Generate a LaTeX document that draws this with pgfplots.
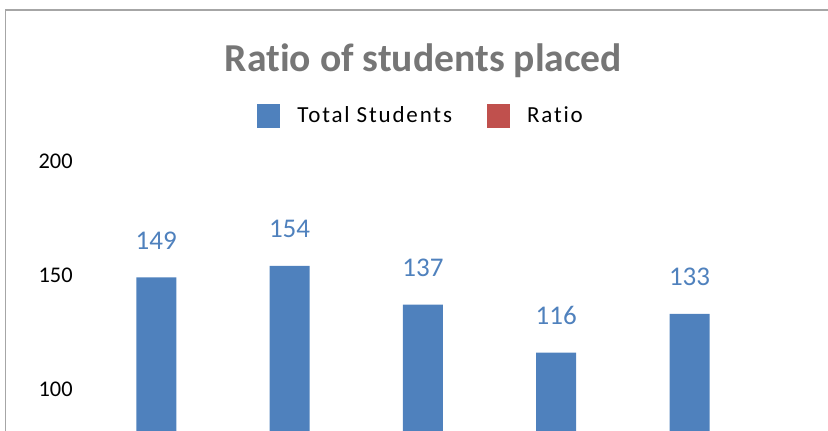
\documentclass[border=0pt]{standalone}
\usepackage{pgfplots}
\pgfplotsset{compat=1.18}
\usepackage{fontspec}
\setmainfont{Carlito}[Ligatures=NoCommon]
\definecolor{barblue}{HTML}{4F81BD}
\definecolor{ratiored}{HTML}{C0504D}
\definecolor{titlegray}{HTML}{767676}
\definecolor{framegray}{HTML}{A6A6A6}
\begin{document}
\begin{tikzpicture}
% visible window of the chart (1 px = 0.5pt)
\useasboundingbox (0,0) rectangle (414pt,-215pt);
\clip (0,0) rectangle (414pt,-215pt);
\draw[framegray, line width=0.75pt] (2.75pt,-300pt) -- (2.75pt,-5pt) -- (500pt,-5pt);
\begin{axis}[
    at={(44.8pt,-80.5pt)}, anchor=north west,
    scale only axis,
    width=333.3pt, height=228pt,
    xmin=-0.5, xmax=4.5,
    ymin=0, ymax=200,
    ytick={100,150,200},
    xtick=\empty,
    axis line style={draw=none},
    major tick length=0pt,
    /pgf/number format/assume math mode=true,
    yticklabel style={font=\fontsize{11.2}{13}\selectfont, anchor=east, inner sep=0pt, xshift=-8.3pt},
    ybar, bar width=20pt,
    title={Ratio of students placed},
    title style={font=\fontsize{19.8}{22}\selectfont\bfseries, text=titlegray,
                 at={(0.5008,1.169)}, anchor=base, inner sep=0pt},
    legend columns=2,
    legend style={at={(0.251,1.0987)}, anchor=west, draw=none, fill=none,
                  inner xsep=0pt, inner ysep=0pt, nodes={inner sep=0pt},
                  font=\fontsize{11.5}{13}\selectfont\addfontfeatures{LetterSpace=8},
                  /tikz/every odd column/.append style={column sep=8.5pt},
                  /tikz/every even column/.append style={column sep=17.5pt}},
    legend image code/.code={\fill[#1] (0pt,-5.9pt) rectangle (11.5pt,5.9pt);},
    nodes near coords,
    every node near coord/.append style={font=\fontsize{13.5}{15}\selectfont, text=barblue,
                                         anchor=center, yshift=18.5pt},
]
\addplot[fill=barblue, draw=none] coordinates {
    (0,149) (1,154) (2,137) (3,116) (4,133)
};
\addlegendentry{Total Students}
\addlegendimage{fill=ratiored, draw=none}
\addlegendentry{Ratio}
\end{axis}
\end{tikzpicture}
\end{document}
